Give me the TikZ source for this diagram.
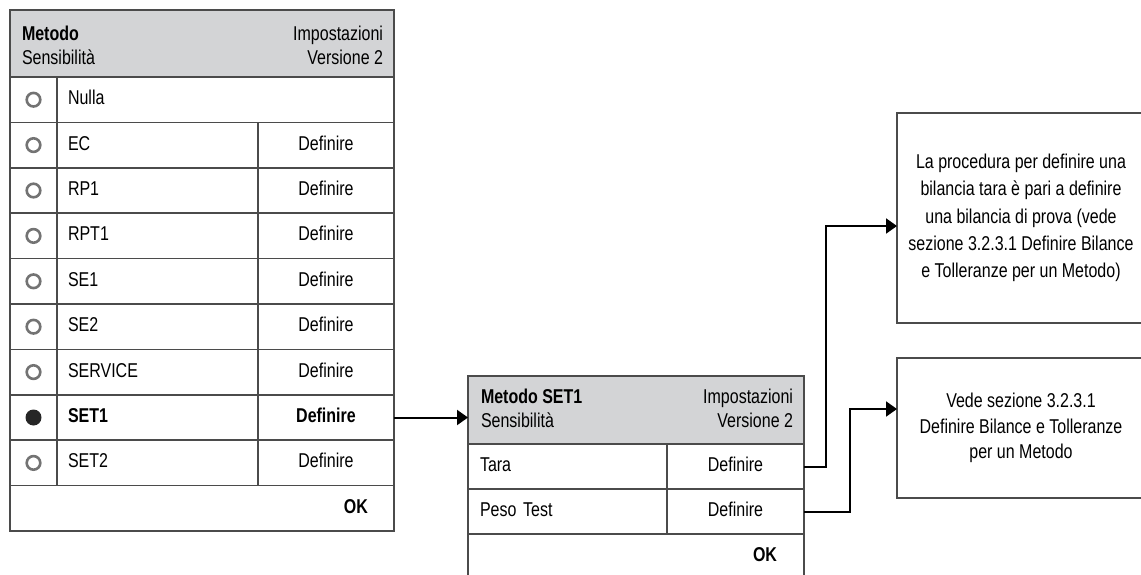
\documentclass[tikz,border=0pt]{standalone}
\usepackage{fontspec}
\setmainfont{Liberation Sans}[FakeStretch=0.8]
\usetikzlibrary{positioning,arrows.meta}

\definecolor{grigio}{RGB}{211,212,214}
\definecolor{bordo}{RGB}{75,75,75}

\tikzset{
  stile schermo/.style={
      x=1pt, y=-1pt,
      every node/.style={font={\fontsize{20}{24}\selectfont}, outer sep=0pt, inner sep=0pt},
      cella/.style={draw=bordo, line width=1.5pt, minimum height=45.4pt, text height=14pt, text depth=4pt},
      radio/.style={cella, minimum width=47pt,
          path picture={\draw[black!55, line width=2.6pt] (path picture bounding box.center) circle (6.8pt);}},
      scelto/.style={cella, minimum width=47pt,
          path picture={\fill[black!85] (path picture bounding box.center) circle (8pt);}},
      nome/.style={cella, inner xsep=11pt, text width=179pt, align=left},
      nome lungo/.style={cella, inner xsep=11pt, text width=315pt, align=left},
      def/.style={cella, minimum width=136pt},
      voce/.style={cella, minimum height=45pt, inner xsep=12pt, text width=175pt, align=left},
      def2/.style={cella, minimum height=45pt, minimum width=137pt},
      testa/.style={draw=bordo, line width=1.5pt, fill=grigio},
      nota/.style={draw=bordo, line width=1.5pt, minimum width=248pt, align=center},
      freccia/.style={-{Triangle[length=11pt, width=15pt]}, line width=2pt, black},
    },
}

\begin{document}
\begin{tikzpicture}[stile schermo]
  \useasboundingbox (0,0) rectangle (1141,574);
  \clip (0,0) rectangle (1141,574);

  % schermo sinistro
  \node[testa, minimum width=384pt, minimum height=67pt] (testa1) at (202,43.5) {};
  \node[anchor=north west, align=left] (tit1) at ([shift={(12,16)}]testa1.north west) {\textbf{Metodo}\\Sensibilità};
  \node[anchor=north east, align=right] (imp1) at ([shift={(-11,16)}]testa1.north east) {Impostazioni\\Versione 2};

  \node[radio] (r1) at (33.5,99.7) {};
  \node[nome lungo, right=0pt of r1] (n1) {Nulla};
  \node[radio, below=0pt of r1] (r2) {};
  \node[nome, right=0pt of r2] (n2) {EC};
  \node[def, right=0pt of n2] (d2) {Definire};
  \node[radio, below=0pt of r2] (r3) {};
  \node[nome, right=0pt of r3] (n3) {RP1};
  \node[def, right=0pt of n3] (d3) {Definire};
  \node[radio, below=0pt of r3] (r4) {};
  \node[nome, right=0pt of r4] (n4) {RPT1};
  \node[def, right=0pt of n4] (d4) {Definire};
  \node[radio, below=0pt of r4] (r5) {};
  \node[nome, right=0pt of r5] (n5) {SE1};
  \node[def, right=0pt of n5] (d5) {Definire};
  \node[radio, below=0pt of r5] (r6) {};
  \node[nome, right=0pt of r6] (n6) {SE2};
  \node[def, right=0pt of n6] (d6) {Definire};
  \node[radio, below=0pt of r6] (r7) {};
  \node[nome, right=0pt of r7] (n7) {SERVICE};
  \node[def, right=0pt of n7] (d7) {Definire};
  \node[scelto, below=0pt of r7] (r8) {};
  \node[nome, right=0pt of r8] (n8) {\textbf{SET1}};
  \node[def, right=0pt of n8] (d8) {\textbf{Definire}};
  \node[radio, below=0pt of r8] (r9) {};
  \node[nome, right=0pt of r9] (n9) {SET2};
  \node[def, right=0pt of n9] (d9) {Definire};
  \node[cella, anchor=north west, minimum width=384pt, inner xsep=26pt, text width=332pt, align=right]
    (ok1) at (r9.south west) {\textbf{OK}};

  % schermo SET1
  \node[testa, minimum width=336pt, minimum height=68pt] (testa2) at (636,410) {};
  \node[anchor=north west, align=left] (tit2) at ([shift={(13,13)}]testa2.north west) {\textbf{Metodo SET1}\\Sensibilità};
  \node[anchor=north east, align=right] (imp2) at ([shift={(-11,13)}]testa2.north east) {Impostazioni\\Versione 2};

  \node[voce, anchor=north west] (tara) at (testa2.south west) {Tara};
  \node[def2, right=0pt of tara] (taraD) {Definire};
  \node[voce, below=0pt of tara] (peso) {Peso Test};
  \node[def2, right=0pt of peso] (pesoD) {Definire};
  \node[cella, anchor=north west, minimum width=336pt, inner xsep=27pt, text width=282pt, align=right]
    (ok2) at (peso.south west) {\textbf{OK}};

  % note
  \node[nota, minimum height=210pt, font={\fontsize{20}{27.2}\selectfont}] (nota1) at (1021,218)
    {La procedura per definire una\\bilancia tara è pari a definire\\una bilancia di prova (vede\\sezione 3.2.3.1 Definire Bilance\\e Tolleranze per un Metodo)};
  \node[nota, minimum height=140pt, font={\fontsize{20}{25.5}\selectfont}] (nota2) at (1021,428)
    {Vede sezione 3.2.3.1\\Definire Bilance e Tolleranze\\per un Metodo};

  \draw[freccia] (d8.east) -- (d8.east -| testa2.west);
  \draw[freccia] (taraD.east) -- ++(22,0) |- ([yshift=-8pt]nota1.west);
  \draw[freccia] (pesoD.east) -- ++(46,0) |- ([yshift=19pt]nota2.west);
\end{tikzpicture}
\end{document}
